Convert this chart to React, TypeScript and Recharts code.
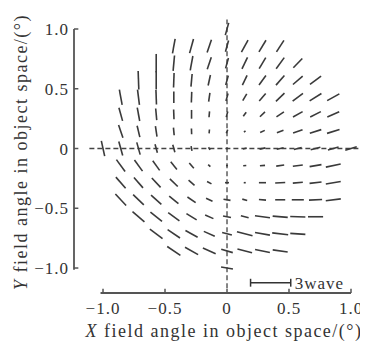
import React from 'react';
import { ComposedChart, XAxis, YAxis, ReferenceLine, Scatter, Label } from 'recharts';

// Field grid positions (normalised field angle), step 1/7
const FIELD = [-1, -0.857, -0.714, -0.571, -0.429, -0.286, -0.143, 0, 0.143, 0.286, 0.429, 0.571, 0.714, 0.857, 1];
// Rows from top (y = 1) to bottom (y = -1)
const ROW_FIELD_Y = [1, 0.857, 0.714, 0.571, 0.429, 0.286, 0.143, 0, -0.143, -0.286, -0.429, -0.571, -0.714, -0.857, -1];
// index into FIELD of the first point in each row
const ROW_START = [7, 4, 3, 2, 1, 1, 1, 0, 1, 1, 1, 2, 3, 4, 7];

// Astigmatism magnitude (waves) read per grid point, row by row
const LENGTH_WAVES = [
  [0.98],
  [1.13, 1.13, 1.05, 0.9, 1.05, 1.05, 1.05],
  [1.43, 1.2, 1.13, 0.98, 0.83, 0.98, 0.98, 1.05, 0.98],
  [1.43, 1.43, 1.13, 0.98, 0.83, 0.75, 0.83, 0.9, 0.98, 0.98, 1.05],
  [1.2, 1.2, 1.13, 0.9, 0.83, 0.68, 0.6, 0.6, 0.75, 0.9, 0.98, 1.05, 1.05],
  [1.05, 1.05, 0.9, 0.75, 0.68, 0.45, 0.45, 0.38, 0.53, 0.68, 0.83, 0.9, 0.98],
  [1.05, 0.9, 0.83, 0.6, 0.45, 0.3, 0.3, 0.15, 0.38, 0.53, 0.75, 0.9, 0.98],
  [1.2, 1.13, 0.98, 0.68, 0.6, 0.38, 0.23, 0.15, 0.3, 0.45, 0.53, 0.6, 0.75, 0.83, 0.9],
  [1.13, 1.05, 0.9, 0.75, 0.53, 0.23, 0.15, 0.23, 0.38, 0.6, 0.75, 0.9, 1.13],
  [1.13, 1.05, 0.98, 0.83, 0.6, 0.38, 0.3, 0.15, 0.53, 0.75, 0.75, 0.9, 1.13],
  [1.2, 1.13, 1.05, 0.9, 0.75, 0.53, 0.53, 0.38, 0.53, 0.75, 0.9, 0.98, 1.13],
  [1.2, 1.13, 1.05, 0.9, 0.68, 0.6, 0.6, 1.13, 1.13, 1.13, 1.13],
  [1.2, 1.13, 1.05, 0.9, 0.75, 1.2, 1.13, 1.2, 1.13],
  [1.2, 1.13, 1.05, 0.9, 1.13, 1.13, 1.13],
  [0.9],
];

// Orientation of the astigmatic line (degrees from +X)
const ORIENT_DEG = [
  [75],
  [80, 75, 72, 75, 62, 60, 58],
  [90, 85, 80, 72, 75, 65, 60, 55, 47],
  [92, 90, 88, 85, 78, 75, 65, 55, 50, 42, 38],
  [100, 97, 92, 90, 88, 82, 75, 60, 50, 45, 38, 33, 30],
  [105, 100, 95, 92, 90, 85, 75, 55, 45, 35, 30, 28, 25],
  [108, 103, 98, 95, 92, 85, 70, 40, 25, 22, 20, 18, 18],
  [102, 105, 105, 105, 105, 100, 120, 0, 15, 12, 12, 14, 15, 16, 18],
  [125, 125, 125, 128, 130, 135, 0, 5, 5, 8, 8, 10, 12],
  [130, 130, 132, 135, 138, 150, 0, 0, 0, 3, 5, 7, 10],
  [132, 135, 137, 140, 145, 155, 170, 165, 175, 0, 0, 3, 7],
  [138, 140, 143, 148, 155, 170, 165, 172, 175, 178, 0],
  [142, 145, 150, 155, 165, 165, 170, 173, 176],
  [145, 150, 155, 163, 165, 168, 172],
  [170],
];

const TICKS = [-1, -0.5, 0, 0.5, 1];
const X_MIN = -1.234;
const Y_MIN = -1.209;

// scale bar: 3 waves
const SCALE_WAVES = 3;
const SCALE_X0 = 0.19;
const SCALE_X1 = 0.514;
const SCALE_Y = -1.123;
const WAVE = (SCALE_X1 - SCALE_X0) / SCALE_WAVES;

const FONT = 'Liberation Serif, Times New Roman, serif';
const INK = '#333';

type Seg = { x: number; y: number; x1: number; y1: number; x2: number; y2: number };
const segments: Seg[] = [];
ROW_FIELD_Y.forEach((y, r) => {
  LENGTH_WAVES[r].forEach((L, k) => {
    const x = FIELD[ROW_START[r] + k];
    const t = (ORIENT_DEG[r][k] * Math.PI) / 180;
    const h = (L * WAVE) / 2;
    segments.push({
      x,
      y,
      x1: x - h * Math.cos(t),
      y1: y - h * Math.sin(t),
      x2: x + h * Math.cos(t),
      y2: y + h * Math.sin(t),
    });
  });
});

const fmt = (v: number) => (v === 0 ? '0' : (v < 0 ? '\u2212' : '') + Math.abs(v).toFixed(1));

const XTitle = (props: any) => {
  const vb = props.viewBox || { x: 0, y: 0, width: 0, height: 0 };
  return (
    <text x={vb.x + 150} y={vb.y + 44} textAnchor="middle" fontFamily={FONT} fontSize={18} fill={INK} letterSpacing={1.5}>
      <tspan fontStyle="italic">X</tspan>
      <tspan> field angle in object space/(°)</tspan>
    </text>
  );
};

const YTitle = (props: any) => {
  const vb = props.viewBox || { x: 0, y: 0, width: 0, height: 0 };
  const cx = vb.x + 9;
  const cy = vb.y + 123;
  return (
    <text x={cx} y={cy} transform={`rotate(-90, ${cx}, ${cy})`} textAnchor="middle" fontFamily={FONT} fontSize={18} fill={INK} letterSpacing={1.5}>
      <tspan fontStyle="italic">Y</tspan>
      <tspan> field angle in object space/(°)</tspan>
    </text>
  );
};

const tickStyle = { fontFamily: FONT, fontSize: 17, fill: INK, letterSpacing: 1 };

export default function App() {
  const axisStroke = '#555';
  return (
    <ComposedChart width={360} height={337} margin={{ top: 21, right: 17, bottom: 22, left: 10 }}>
      <XAxis
        type="number"
        dataKey="x"
        domain={[X_MIN, 1]}
        allowDataOverflow
        ticks={TICKS}
        tickFormatter={fmt}
        axisLine={false}
        tickLine={false}
        tickSize={0}
        tickMargin={9}
        height={30}
        tick={tickStyle}
        label={<Label content={<XTitle />} />}
      />
      <YAxis
        type="number"
        dataKey="y"
        domain={[Y_MIN, 1]}
        allowDataOverflow
        ticks={TICKS}
        tickFormatter={fmt}
        axisLine={false}
        tickLine={false}
        tickSize={0}
        tickMargin={5}
        width={56}
        tick={tickStyle}
        label={<Label content={<YTitle />} />}
      />
      <Scatter data={segments} shape={() => <g />} isAnimationActive={false} />

      {/* axis lines */}
      <ReferenceLine segment={[{ x: X_MIN, y: -1.015 }, { x: X_MIN, y: 1 }]} stroke={axisStroke} strokeWidth={1.8} ifOverflow="visible" />
      <ReferenceLine segment={[{ x: -1.02, y: Y_MIN }, { x: 1, y: Y_MIN }]} stroke={axisStroke} strokeWidth={1.8} ifOverflow="visible" />
      {TICKS.map((t) => (
        <ReferenceLine key={'yt' + t} segment={[{ x: X_MIN, y: t }, { x: X_MIN + 0.035, y: t }]} stroke={axisStroke} strokeWidth={1.5} ifOverflow="visible" />
      ))}
      {TICKS.map((t) => (
        <ReferenceLine key={'xt' + t} segment={[{ x: t, y: Y_MIN }, { x: t, y: Y_MIN + 0.035 }]} stroke={axisStroke} strokeWidth={1.5} ifOverflow="visible" />
      ))}

      {/* dashed cross */}
      <ReferenceLine segment={[{ x: -1.11, y: 0 }, { x: 1.07, y: 0 }]} stroke="#444" strokeWidth={1.3} strokeDasharray="5 3" ifOverflow="visible" />
      <ReferenceLine segment={[{ x: 0, y: -1.17 }, { x: 0, y: 1.08 }]} stroke="#444" strokeWidth={1.3} strokeDasharray="5 3" ifOverflow="visible" />

      {/* astigmatism segments */}
      {segments.map((s, i) => (
        <ReferenceLine key={'s' + i} segment={[{ x: s.x1, y: s.y1 }, { x: s.x2, y: s.y2 }]} stroke="#3a3a3a" strokeWidth={1.6} ifOverflow="visible" />
      ))}

      {/* scale bar */}
      <ReferenceLine
        segment={[{ x: SCALE_X0, y: SCALE_Y }, { x: SCALE_X1, y: SCALE_Y }]}
        stroke="#333"
        strokeWidth={1.6}
        ifOverflow="visible"
        label={{ value: `${SCALE_WAVES}wave`, position: 'right', offset: 4, fontFamily: FONT, fontSize: 17, fill: INK, letterSpacing: 1 }}
      />
      <ReferenceLine segment={[{ x: SCALE_X0, y: SCALE_Y - 0.033 }, { x: SCALE_X0, y: SCALE_Y + 0.033 }]} stroke="#333" strokeWidth={1.5} ifOverflow="visible" />
      <ReferenceLine segment={[{ x: SCALE_X1, y: SCALE_Y - 0.033 }, { x: SCALE_X1, y: SCALE_Y + 0.033 }]} stroke="#333" strokeWidth={1.5} ifOverflow="visible" />
    </ComposedChart>
  );
}
